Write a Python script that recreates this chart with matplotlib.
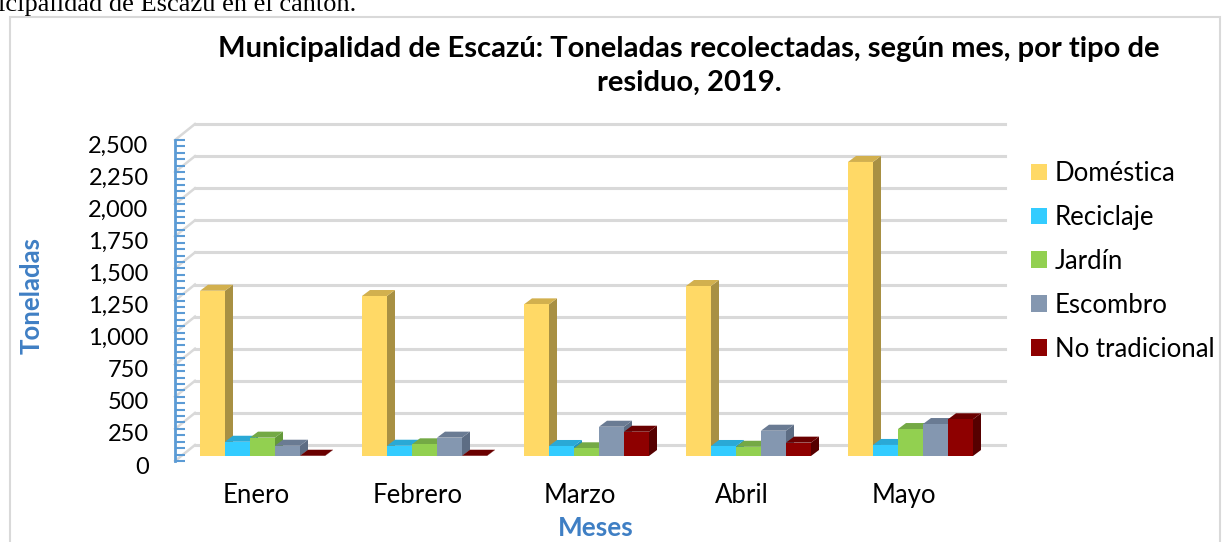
import numpy as np
import matplotlib
matplotlib.use('Agg')
import matplotlib.pyplot as plt
from matplotlib.patches import Patch, Rectangle
from matplotlib.ticker import FuncFormatter, MultipleLocator
from matplotlib.transforms import ScaledTranslation

# datos (toneladas)
meses = ['Enero', 'Febrero', 'Marzo', 'Abril', 'Mayo']
tipos = ['Doméstica', 'Reciclaje', 'Jardín', 'Escombro', 'No tradicional']
domestica = [1287, 1246, 1181, 1324, 2290]
reciclaje = [111, 80, 78, 78, 86]
jardin = [143, 91, 60, 72, 210]
escombro = [80, 143, 228, 197, 249]
no_tradicional = [2, 2, 189, 104, 286]
series = [domestica, reciclaje, jardin, escombro, no_tradicional]

colores = ['#ffd966', '#33ccff', '#92d050', '#8497b0', '#8e0000']
lados = ['#a89043', '#1f93c0', '#64993a', '#5d6d84', '#560000']
techos = ['#d2b04e', '#2aa9d6', '#74a945', '#6a7b93', '#6a0000']

plt.rcParams['font.family'] = ['Lato', 'DejaVu Sans']

W, H = 1223, 542
fig = plt.figure(figsize=(W / 100, H / 100), dpi=100)

# marco del grafico
fig.patches.append(Rectangle((10 / W, -0.1), 1210 / W, 1.1 - 17 / H, transform=fig.transFigure,
                             fill=False, edgecolor='#d9d9d9', lw=1.5))
# texto del documento cortado arriba
fig.text(-2 / W, 1 - 11 / H, 'icipalidad de Escazú en el cantón.', family='Liberation Serif',
         fontsize=19, va='baseline', ha='left')

ax_l, ax_r, ax_t, ax_b = 175, 985, 140, 461
ax = fig.add_axes([ax_l / W, 1 - ax_b / H, (ax_r - ax_l) / W, (ax_b - ax_t) / H])
ax.set_xlim(-0.5, 4.5)
ax.set_ylim(0, 2500)

px_x = (ax_r - ax_l) / 5.0
px_y = (ax_b - ax_t) / 2500.0
def dx(p):
    return p / px_x
def dy(p):
    return p / px_y

# paredes: lineas de cuadricula al fondo
gx, gy = dx(20), dy(16)
for v in range(0, 2501, 250):
    ax.plot([-0.5, -0.5 + gx], [v, v + gy], color='#d9d9d9', lw=1.8, zorder=1, clip_on=False)
    ax.plot([-0.5 + gx, 4.5 + gx], [v + gy, v + gy], color='#d9d9d9', lw=2.2, zorder=1, clip_on=False)

# barras con profundidad
x = np.arange(len(meses))
w = 25 / px_x
sx, base = dx(6.5), dy(5)
ddx, ddy = dx(8), dy(6)
for i, vals in enumerate(series):
    xi = x + (i - 2) * w + sx
    for xc, v in zip(xi, vals):
        x0, x1, top = xc - w / 2, xc + w / 2, base + v
        ax.fill([x1, x1 + ddx, x1 + ddx, x1], [base, base + ddy, top + ddy, top],
                color=lados[i], lw=0, zorder=3 + 3 * i, clip_on=False)
        ax.fill([x0, x1, x1 + ddx, x0 + ddx], [top, top, top + ddy, top + ddy],
                color=techos[i], lw=0, zorder=3 + 3 * i, clip_on=False)
    ax.bar(xi, vals, width=w, bottom=base, color=colores[i], lw=0, zorder=5 + 3 * i,
           label=tipos[i], clip_on=False)

# ejes
for s in ['top', 'right', 'bottom']:
    ax.spines[s].set_visible(False)
ax.spines['left'].set_color('#5b9bd5')
ax.spines['left'].set_linewidth(2)
ax.yaxis.set_major_locator(MultipleLocator(250))
ax.yaxis.set_minor_locator(MultipleLocator(50))
ax.yaxis.set_major_formatter(FuncFormatter(lambda v, p: '{:,.0f}'.format(v)))
ax.tick_params(axis='y', which='both', direction='in', length=7, width=1.5, color='#5b9bd5',
               labelsize=17, pad=19)
for lab in ax.get_yticklabels():
    lab.set_transform(lab.get_transform() + ScaledTranslation(0, -4 / 100, fig.dpi_scale_trans))
ax.set_xticks(x)
ax.set_xticklabels(meses)
ax.tick_params(axis='x', length=0, labelsize=18.5, pad=16)

fig.text(32 / W, 1 - 296 / H, 'Toneladas', rotation=90, fontsize=18.5, fontweight='bold',
         color='#3f7fc4', ha='center', va='center')
fig.text(596 / W, 1 - 528 / H, 'Meses', fontsize=18.8, fontweight='bold',
         color='#3f7fc4', ha='center', va='center')

fig.text(689 / W, 1 - 66 / H,
         'Municipalidad de Escazú: Toneladas recolectadas, según mes, por tipo de\nresiduo, 2019.',
         fontsize=21, fontweight='bold', ha='center', va='center', linespacing=1.39)

handles = [Patch(facecolor=c, edgecolor='none') for c in colores]
fig.legend(handles, tipos, loc='upper left', bbox_to_anchor=(1031 / W, 1 - 161 / H),
           frameon=False, fontsize=18.5, handlelength=0.62, handleheight=0.62,
           handletextpad=0.3, labelspacing=0.735, borderaxespad=0, borderpad=0)

fig.savefig('out.png', dpi=100)
